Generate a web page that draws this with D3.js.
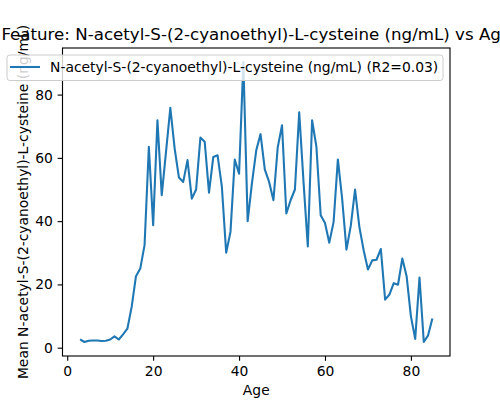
<!DOCTYPE html>
<html>
<head>
<meta charset="utf-8">
<script src="https://cdn.jsdelivr.net/npm/d3@7"></script>
<style>
  body { margin: 0; background: #fff; }
  svg { font-family: "DejaVu Sans", sans-serif; }
</style>
</head>
<body>
<svg id="chart" width="500" height="400"></svg>
<script>
// Mean value per age
let ages = d3.range(3, 86);
let means = [
  2.6, 1.8, 2.2, 2.3, 2.3, 2.1, 2.2, 2.6, 3.6, 2.6,
  4.2, 6.0, 12.9, 22.6, 25.0, 32.4, 63.5, 38.7, 71.9, 48.2,
  62.0, 75.8, 63.0, 53.8, 52.4, 59.3, 47.1, 50.0, 66.4, 65.1,
  49.0, 60.3, 60.8, 50.8, 30.0, 36.6, 59.5, 55.0, 90.3, 40.0,
  52.0, 62.4, 67.5, 56.3, 52.4, 46.6, 63.3, 70.3, 42.4, 46.6,
  50.0, 74.4, 52.5, 32.0, 71.9, 63.5, 41.9, 39.4, 33.2, 39.7,
  59.5, 47.0, 31.0, 38.5, 50.0, 38.2, 30.8, 24.7, 27.6, 27.8,
  31.2, 15.2, 16.8, 20.4, 19.9, 28.2, 22.6, 9.9, 2.8, 22.2,
  1.8, 3.9, 9.2
];
let xTicks = [0, 20, 40, 60, 80];
let yTicks = [0, 20, 40, 60, 80];

let titleText = "Feature: N-acetyl-S-(2-cyanoethyl)-L-cysteine (ng/mL) vs Age";
let seriesName = "N-acetyl-S-(2-cyanoethyl)-L-cysteine (ng/mL) (R2=0.03)";
let yLabel = "Mean N-acetyl-S-(2-cyanoethyl)-L-cysteine (ng/mL)";

let svg = d3.select("#chart");
let plotLeft = 62.5, plotRight = 450, plotTop = 48, plotBottom = 356;
let pt = 100 / 72; // figure was saved at 100 dpi

// matplotlib style 5% padding on both axes
let xMin = d3.min(ages), xMax = d3.max(ages);
let yMin = d3.min(means), yMax = d3.max(means);
let xPad = (xMax - xMin) * 0.05, yPad = (yMax - yMin) * 0.05;

let x = d3.scaleLinear().domain([xMin - xPad, xMax + xPad]).range([plotLeft, plotRight]);
let y = d3.scaleLinear().domain([yMin - yPad, yMax + yPad]).range([plotBottom, plotTop]);

// title (wider than the figure, gets cut at both edges)
svg.append("text")
    .attr("x", (plotLeft + plotRight) / 2)
    .attr("y", 40)
    .attr("text-anchor", "middle")
    .attr("font-size", 12 * pt + "px")
    .text(titleText);

// axes
let xAxis = svg.append("g")
    .attr("transform", `translate(0,${plotBottom})`)
    .call(d3.axisBottom(x).tickValues(xTicks).tickSize(3.5 * pt).tickPadding(3.5 * pt));
let yAxis = svg.append("g")
    .attr("transform", `translate(${plotLeft},0)`)
    .call(d3.axisLeft(y).tickValues(yTicks).tickSize(3.5 * pt).tickPadding(3.5 * pt));

[xAxis, yAxis].forEach(g => {
    g.select(".domain").remove();
    g.selectAll("text").attr("font-size", 10 * pt + "px").attr("fill", "#000").attr("font-family", "DejaVu Sans");
    g.selectAll("line").attr("stroke", "#000").attr("stroke-width", 0.8 * pt);
});

svg.append("rect")
    .attr("x", plotLeft).attr("y", plotTop)
    .attr("width", plotRight - plotLeft).attr("height", plotBottom - plotTop)
    .attr("fill", "none").attr("stroke", "#000").attr("stroke-width", 0.8 * pt);

// axis labels
svg.append("text")
    .attr("x", (plotLeft + plotRight) / 2)
    .attr("y", 395)
    .attr("text-anchor", "middle")
    .attr("font-size", 10 * pt + "px")
    .text("Age");

svg.append("text")
    .attr("transform", `translate(27.5,${(plotTop + plotBottom) / 2}) rotate(-90)`)
    .attr("text-anchor", "middle")
    .attr("font-size", 10 * pt + "px")
    .text(yLabel);

// the line
let line = d3.line()
    .x((d, i) => x(ages[i]))
    .y(d => y(d));

svg.append("path")
    .datum(means)
    .attr("d", line)
    .attr("fill", "none")
    .attr("stroke", "#1f77b4")
    .attr("stroke-width", 1.5 * pt)
    .attr("stroke-linejoin", "round");

// legend
let legend = svg.append("g");
legend.append("rect")
    .attr("x", 7).attr("y", 55)
    .attr("width", 436).attr("height", 25.5)
    .attr("rx", 2.8)
    .attr("fill", "#fff").attr("fill-opacity", 0.8)
    .attr("stroke", "#ccc").attr("stroke-width", 1);
legend.append("line")
    .attr("x1", 10).attr("x2", 40)
    .attr("y1", 67).attr("y2", 67)
    .attr("stroke", "#1f77b4").attr("stroke-width", 1.5 * pt);
legend.append("text")
    .attr("x", 50).attr("y", 72)
    .attr("font-size", 10 * pt + "px")
    .text(seriesName);
</script>
</body>
</html>
